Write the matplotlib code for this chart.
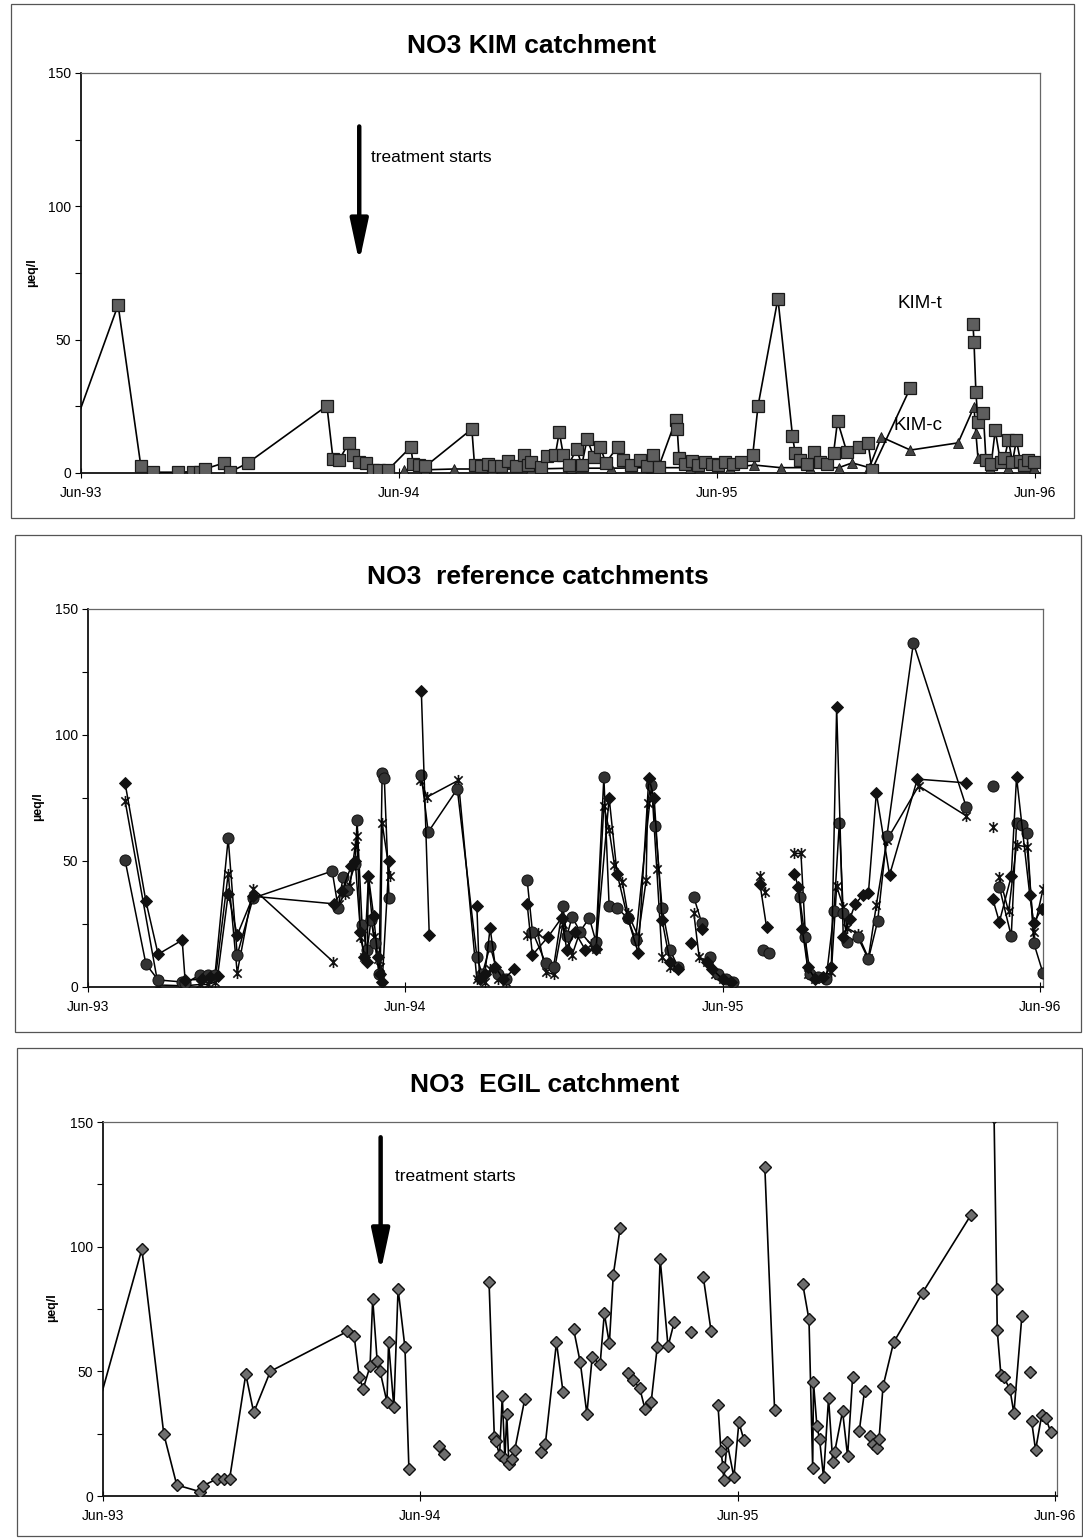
import numpy as np
import matplotlib
matplotlib.use("Agg")
import matplotlib.pyplot as plt
from matplotlib.patches import Rectangle
from matplotlib.path import Path

plt.rcParams["font.family"] = ["Liberation Sans", "DejaVu Sans"]

nan = np.nan

# x values: months counted from 1 June 1993 (Jun-93 = 0, Jun-96 = 36)
month_ticks = [0, 12, 24, 36]
month_labels = ["Jun-93", "Jun-94", "Jun-95", "Jun-96"]

# ---- NO3 KIM catchment ----
kim_t_month = [-0.6, 1.40, 2.26, 2.72, 3.66, 4.23, 4.49, 4.68, 5.40, 5.62, 6.30, 9.28, 9.51, 9.74,
               10.11, 10.26, 10.49, 10.75, 11.02, 11.25, 11.58, 12.45, 12.53, 12.75, 13.0, 14.75,
               14.85, 15.1, 15.35, 15.6, 15.85, 16.1, 16.4, 16.7, 16.85, 17.0, 17.35, 17.6, 17.9,
               18.05, 18.2, 18.4, 18.7, 18.9, 19.1, 19.35, 19.6, 19.8, 20.25, 20.45, 20.75, 21.1,
               21.35, 21.6, 21.8, 22.45, 22.5, 22.57, 22.8, 23.05, 23.3, 23.55, 23.8, 24.05, 24.3,
               24.6, 24.9, 25.35, 25.55, 26.3, 26.85, 26.95, 27.15, 27.4, 27.65, 27.9, 28.15, 28.4,
               28.55, 28.9, 29.35, 29.7, 29.85, 31.3, 32.0, 33.66, 33.7, 33.77, 33.85, 34.05, 34.15,
               34.35, 34.5, 34.7, 34.85, 35.0, 35.15, 35.3, 35.45, 35.6, 35.75, 35.95]
kim_t_value = [8, 63, 2.5, 0.3, 0.3, 0.5, 0.5, 1.5, 3.8, 0.3, 3.8, 25.2, 5.3, 4.9,
               11.3, 6.8, 4.1, 3.8, 1.1, 1.1, 1.1, 9.8, 3.5, 3.0, 2.5, 16.5,
               3.0, 2.5, 3.2, 2.5, 2.8, 4.5, 2.5, 6.8, 3.0, 4.0, 2.3, 6.4, 6.8,
               15.4, 6.8, 3.0, 9.0, 3.0, 12.8, 6.0, 9.8, 3.8, 9.8, 4.9, 3.0, 4.9,
               2.5, 6.8, 2.3, 20, 16.5, 5.6, 3.5, 4.5, 3.0, 4.0, 3.5, 3.0, 4.0,
               3.5, 4.0, 6.8, 25.2, 65.4, 13.9, 7.5, 5.0, 3.5, 7.9, 4.0, 3.5, 7.5,
               19.5, 7.9, 9.8, 11.3, 1.2, 32.0, nan, 56, 49, 30.5, 19, 22.5, 5,
               3.5, 16, 4, 5.5, 12.4, 4, 12.4, 4.5, 3.0, 5.0, 4.0]

kim_c_month = [12.2, 13.0, 14.08, 15.5, 17.0, 18.5, 20.0, 21.5, 23.0, 24.5, 25.4, 26.4, 27.5,
               28.6, 29.1, 29.75, 30.2, 31.3, 33.1, 33.7, 33.77, 33.85, 34.3, 35.0, 35.96]
kim_c_value = [1.0, 1.2, 1.5, 1.5, 1.5, 1.8, 1.8, 2.0, 2.0, 2.0, 3.0, 2.0, 2.0,
               2.0, 3.8, 2.0, 13.5, 8.6, 11.3, 24.8, 15.0, 5.6, 2.0, 2.0, 2.0]

# ---- NO3 reference catchments ----
ref_d_month = [1.40, 2.19, 2.65, 3.56, 3.67, 4.3, 4.6, 4.9, 5.3, 5.64, 6.24, 9.3, 9.6, 9.95, 10.1,
               10.3, 10.45, 10.55, 10.6, 10.8, 10.95, 11.05, 11.12, 11.38, 12.0, 12.6, 12.9, 13.5,
               14.7, 14.8, 15.0, 15.2, 15.4, 15.7, 16.1, 16.3, 16.6, 16.8, 17.4, 17.9, 18.1, 18.4,
               18.8, 19.2, 19.7, 20.0, 20.4, 20.8, 21.2, 21.4, 21.7, 22.0, 22.3, 22.5, 22.8, 23.0,
               23.2, 23.3, 23.4, 23.6, 24.0, 24.3, 24.8, 25.4, 25.65, 26.2, 26.7, 26.85, 27.0, 27.2,
               27.5, 27.8, 28.1, 28.3, 28.55, 28.8, 29.0, 29.3, 29.5, 29.8, 30.3, 31.35, 33.2, 33.8,
               34.2, 34.45, 34.9, 35.1, 35.6, 35.75, 36.05]
ref_d_value = [81, 34, 13, 18.6, 2.8, 3, 4, 4.5, 37, 20.6, 36, 33, 38, 48, 50,
               22, 12, 10, 44, 28, 12, 5, 2, 50, nan, 117.5, 20.6, nan,
               32, 3, 5, 23.4, 8, 3, 7, nan, 33, 12.7, 20, 27.4, 14.7, 22,
               14.7, 15, 75, 45, 27.4, 13.5, 83, 75, 26.6, 10, 7, nan, 17.5, nan,
               23, nan, 10, 7, 3, 2, nan, 41, 23.8, nan, 45, 39.7, 23, 8,
               3, 4, 8, 111, 20, 27, 33, 36.5, 37.3, 77, 44.4, 82.5, 81, nan,
               35, 25.8, 44, 83.3, 36.5, 25.4, 31]

ref_o_month = [1.40, 2.19, 2.65, 3.56, 3.67, 4.24, 4.55, 4.8, 5.3, 5.64, 6.24, 9.23, 9.46, 9.64,
               9.8, 10.1, 10.17, 10.36, 10.55, 10.7, 10.85, 11.0, 11.12, 11.2, 11.38, 12.0, 12.6,
               12.86, 13.96, 14.7, 14.9, 15.2, 15.5, 15.8, 16.2, 16.6, 16.8, 17.3, 17.6, 17.95,
               18.1, 18.3, 18.6, 18.95, 19.2, 19.5, 19.7, 20.0, 20.4, 20.7, 21.3, 21.45, 21.7, 22.0,
               22.3, 22.6, 22.9, 23.2, 23.3, 23.5, 23.8, 24.1, 24.4, 25.0, 25.5, 25.75, 26.3, 26.9,
               27.1, 27.3, 27.6, 27.9, 28.2, 28.4, 28.55, 28.7, 29.1, 29.5, 29.85, 30.2, 31.2, 33.2,
               33.7, 34.2, 34.3, 34.45, 34.9, 35.1, 35.3, 35.5, 35.75, 36.1]
ref_o_value = [50.4, 9.1, 2.8, 2, 1.5, 4.8, 4.8, 4.8, 59, 12.7, 35.3, 46, 31.3, 43.7,
               38.5, 49, 66.3, 24.6, 14.7, 26.6, 17.5, 5, 85, 83, 35.3, nan, 84,
               61.5, 78.6, 12, 5, 16.3, 5, 3, nan, 42.5, 22, 9.5, 8, 32,
               20.2, 27.8, 22, 27.4, 18, 83.3, 32, 31.3, 27.4, 18.6, 80, 64, 31.3, 14.7,
               8, nan, 35.7, 25.4, nan, 12, 5, 3, 2, nan, 14.7, 13.5, nan, 35.7,
               20, 5, 4, 3, 30, 65, 29.4, 18, 19.8, 11, 26.2, 60, 136.5, 71.4,
               nan, 79.8, nan, 39.7, 20.2, 65, 64.3, 61, 17.5, 5.5]

ref_x_month = [1.40, 2.65, 3.56, 3.67, 4.24, 4.55, 4.8, 5.3, 5.64, 6.24, 9.27, 9.4, 9.5, 9.7, 9.9,
               10.1, 10.17, 10.3, 10.45, 10.6, 10.8, 10.95, 11.05, 11.12, 11.42, 12.0, 12.56, 12.82,
               14.0, 14.7, 15.0, 15.2, 15.5, 15.8, 16.2, 16.6, 17.0, 17.3, 17.6, 17.95, 18.3, 18.6,
               19.0, 19.2, 19.5, 19.7, 19.9, 20.2, 20.4, 20.8, 21.1, 21.15, 21.3, 21.5, 21.7, 22.0,
               22.5, 22.9, 23.1, 23.4, 23.7, 24.0, 24.7, 25.4, 25.6, 26.2, 26.7, 26.95, 27.2, 27.5,
               27.8, 28.1, 28.3, 28.55, 28.7, 29.1, 29.5, 29.8, 30.2, 31.4, 33.2, 33.7, 34.2, 34.3,
               34.45, 34.8, 35.1, 35.5, 35.75, 36.1]
ref_x_value = [74, 0.8, 0.5, 0.5, 1, 1, 2, 45, 5.6, 39, 10, nan, 33, 37, 40,
               56, 60, 20, 12, 43, 20, 11, 8, 65, 44, nan, 82, 75.4,
               82, 3, 2, 7, 3, 2, nan, 20.6, 21.4, 6, 5, 25, 12.7, 22,
               17, 15, 72, 62.3, 48.4, 41.7, 29.4, 20, 42.5, 73, 81.3, 46.8, 12, 8,
               nan, 29.4, 12, 10, 5, 3, nan, 44, 37.7, nan, 53, 53, 5, 3,
               4, 6, 40, 31.7, 23.4, 21, 11.5, 32.5, 58.3, 79.8, 67.9, nan, 63.5, nan,
               43.7, 30, 56.3, 55.6, 22, 38.9]

# ---- NO3 EGIL catchment ----
egil_month = [-0.5, 1.47, 2.3, 2.79, 3.65, 3.77, 4.33, 4.56, 4.79, 5.4, 5.7, 6.33, 9.24, 9.5, 9.69,
              9.84, 10.1, 10.2, 10.37, 10.48, 10.74, 10.8, 11.0, 11.16, 11.42, 11.57, 12.2, 12.7,
              12.9, 13.5, 14.6, 14.8, 14.85, 15.0, 15.1, 15.2, 15.27, 15.35, 15.45, 15.57, 15.95,
              16.2, 16.55, 16.73, 17.15, 17.4, 17.6, 17.8, 18.05, 18.3, 18.5, 18.8, 18.96, 19.15,
              19.3, 19.56, 19.7, 19.86, 20.05, 20.3, 20.5, 20.73, 20.96, 21.07, 21.37, 21.6, 21.9,
              22.24, 22.5, 22.7, 23.0, 23.1, 23.26, 23.37, 23.45, 23.48, 23.6, 23.86, 24.05, 24.24,
              24.6, 25.03, 25.4, 26.0, 26.46, 26.7, 26.84, 26.87, 27.0, 27.1, 27.25, 27.44, 27.6,
              27.67, 27.97, 28.16, 28.35, 28.45, 28.6, 28.8, 28.9, 29.02, 29.14, 29.28, 29.35, 29.5,
              29.9, 31.0, 32.83, 33.3, 33.7, 33.8, 33.82, 33.96, 34.07, 34.3, 34.45, 34.75, 34.9,
              35.05, 35.1, 35.12, 35.27, 35.5, 35.65, 35.85]
egil_value = [24, 99, 24.8, 4.4, 1.8, 4, 7, 7, 7, 48.8, 33.5, 50, 66, 64, 47.6,
              43, 52, 79, 54, 50, 37.6, 61.6, 35.6, 83, 59.6, 10.8, nan, 20,
              16.8, nan, 86, 23.6, 22, 16.4, 40, 14.8, 32.8, 12.8, 14.8, 18.4, 38.8,
              nan, 17.6, 21, 61.6, 41.6, nan, 66.8, 53.6, 33, 55.6, 52.8, 73.2, 61.2,
              88.8, 107.6, nan, 49.2, 46.4, 43.2, 34.8, 37.6, 59.6, 95.2, 60, 69.6, nan,
              65.6, nan, 88, 66, nan, 36.4, 18, 11.6, 6.4, 21.6, 7.6, 29.6, 22.4,
              nan, 132, 34.4, nan, 85.2, 70.8, 11.2, 45.6, 28, 22.8, 7.6, 39.2, 13.6,
              17.6, 34, 16, 47.6, nan, 26, 42, nan, 24, 20.8, 19.2, 22.8, 44,
              61.6, 81.6, 112.8, nan, 152, 83.2, 66.4, 48.4, 47.6, 42.8, 33.2, 72, nan,
              49.6, nan, 30, 18.4, 32.4, 31.2, 25.6]

W, H = 1083, 1538


def px_box(left, right, top, bottom):
    return [left / W, 1 - bottom / H, (right - left) / W, (bottom - top) / H]


def asterisk_marker():
    verts = [(0, -1), (0, 1), (-0.75, -0.75), (0.75, 0.75), (-0.75, 0.75), (0.75, -0.75)]
    codes = [Path.MOVETO, Path.LINETO] * 3
    return Path(verts, codes)


def style_axes(ax, xmax):
    ax.set_xlim(0, xmax)
    ax.set_ylim(0, 150)
    ax.set_xticks(month_ticks)
    ax.set_xticklabels(month_labels)
    ax.set_yticks([0, 50, 100, 150])
    ax.set_yticks([25, 75, 125], minor=True)
    ax.tick_params(axis="x", direction="inout", length=7, width=0.8, labelsize=10, pad=6)
    ax.tick_params(axis="y", which="both", direction="out", length=4, width=0.8,
                   labelsize=10, pad=3)
    for side in ("left", "bottom"):
        ax.spines[side].set_color("#111111")
        ax.spines[side].set_linewidth(1.3)
    for side in ("top", "right"):
        ax.spines[side].set_color("#666666")
        ax.spines[side].set_linewidth(0.9)


def treatment_arrow(ax, x, y_top, y_tip):
    ax.annotate("", xy=(x, y_tip), xytext=(x, y_top),
                arrowprops=dict(arrowstyle="-|>,head_width=0.3,head_length=1.4",
                                lw=3.2, color="black", mutation_scale=18))


fig = plt.figure(figsize=(W / 100, H / 100), dpi=100)

# panel borders
for left, top, right, bottom in [(11, 4, 1074, 518), (15, 535, 1081, 1032), (17, 1048, 1082, 1536)]:
    fig.add_artist(Rectangle((left / W, 1 - bottom / H), (right - left) / W, (bottom - top) / H,
                             transform=fig.transFigure, fill=False, lw=0.9, ec="#555555"))

# ---- panel 1 ----
ax1 = fig.add_axes(px_box(81, 1040, 73, 473))
ax1.plot(kim_c_month, kim_c_value, color="black", lw=1.2, marker="^", ms=7.5,
         mfc="#444444", mec="#111111", mew=0.6, zorder=3)
ax1.plot(kim_t_month, kim_t_value, color="black", lw=1.2, marker="s", ms=8.5,
         mfc="#5e5e5e", mec="#1a1a1a", mew=0.9, zorder=4)
style_axes(ax1, 36.19)
treatment_arrow(ax1, 10.5, 131, 78)
ax1.text(10.95, 118.4, "treatment starts", fontsize=12.5, va="center", ha="left")
ax1.text(30.8, 63.5, "KIM-t", fontsize=13.5, va="center", ha="left")
ax1.text(30.65, 18, "KIM-c", fontsize=13.5, va="center", ha="left", zorder=6)
fig.text(532 / W, 1 - 46 / H, "NO3 KIM catchment", fontsize=19, fontweight="bold",
         ha="center", va="center")
fig.text(32 / W, 1 - 273 / H, "µeq/l", fontsize=9, fontweight="bold", rotation=90,
         ha="center", va="center")

# ---- panel 2 ----
ax2 = fig.add_axes(px_box(88, 1043, 609, 987))
ax2.plot(ref_x_month, ref_x_value, color="black", lw=1.1, marker=asterisk_marker(), ms=8,
         mfc="none", mec="#111111", mew=1.2, zorder=3)
ax2.plot(ref_o_month, ref_o_value, color="black", lw=1.1, marker="o", ms=8,
         mfc="#333333", mec="#111111", mew=0.7, zorder=4)
ax2.plot(ref_d_month, ref_d_value, color="black", lw=1.1, marker="D", ms=6,
         mfc="#111111", mec="#111111", mew=0.7, zorder=5)
style_axes(ax2, 36.1)
fig.text(538 / W, 1 - 577 / H, "NO3  reference catchments", fontsize=19, fontweight="bold",
         ha="center", va="center")
fig.text(38 / W, 1 - 807 / H, "µeq/l", fontsize=9, fontweight="bold", rotation=90,
         ha="center", va="center")

# ---- panel 3 ----
ax3 = fig.add_axes(px_box(103, 1057, 1122, 1496))
ax3.plot(egil_month, egil_value, color="black", lw=1.2, marker="D", ms=6.5,
         mfc="#6e6e6e", mec="#111111", mew=1.0, zorder=4)
style_axes(ax3, 36.08)
treatment_arrow(ax3, 10.5, 145, 88.7)
ax3.text(11.05, 128, "treatment starts", fontsize=12.5, va="center", ha="left")
fig.text(545 / W, 1 - 1085 / H, "NO3  EGIL catchment", fontsize=19, fontweight="bold",
         ha="center", va="center")
fig.text(52 / W, 1 - 1308 / H, "µeq/l", fontsize=9, fontweight="bold", rotation=90,
         ha="center", va="center")

fig.savefig("out.png", dpi=100)
